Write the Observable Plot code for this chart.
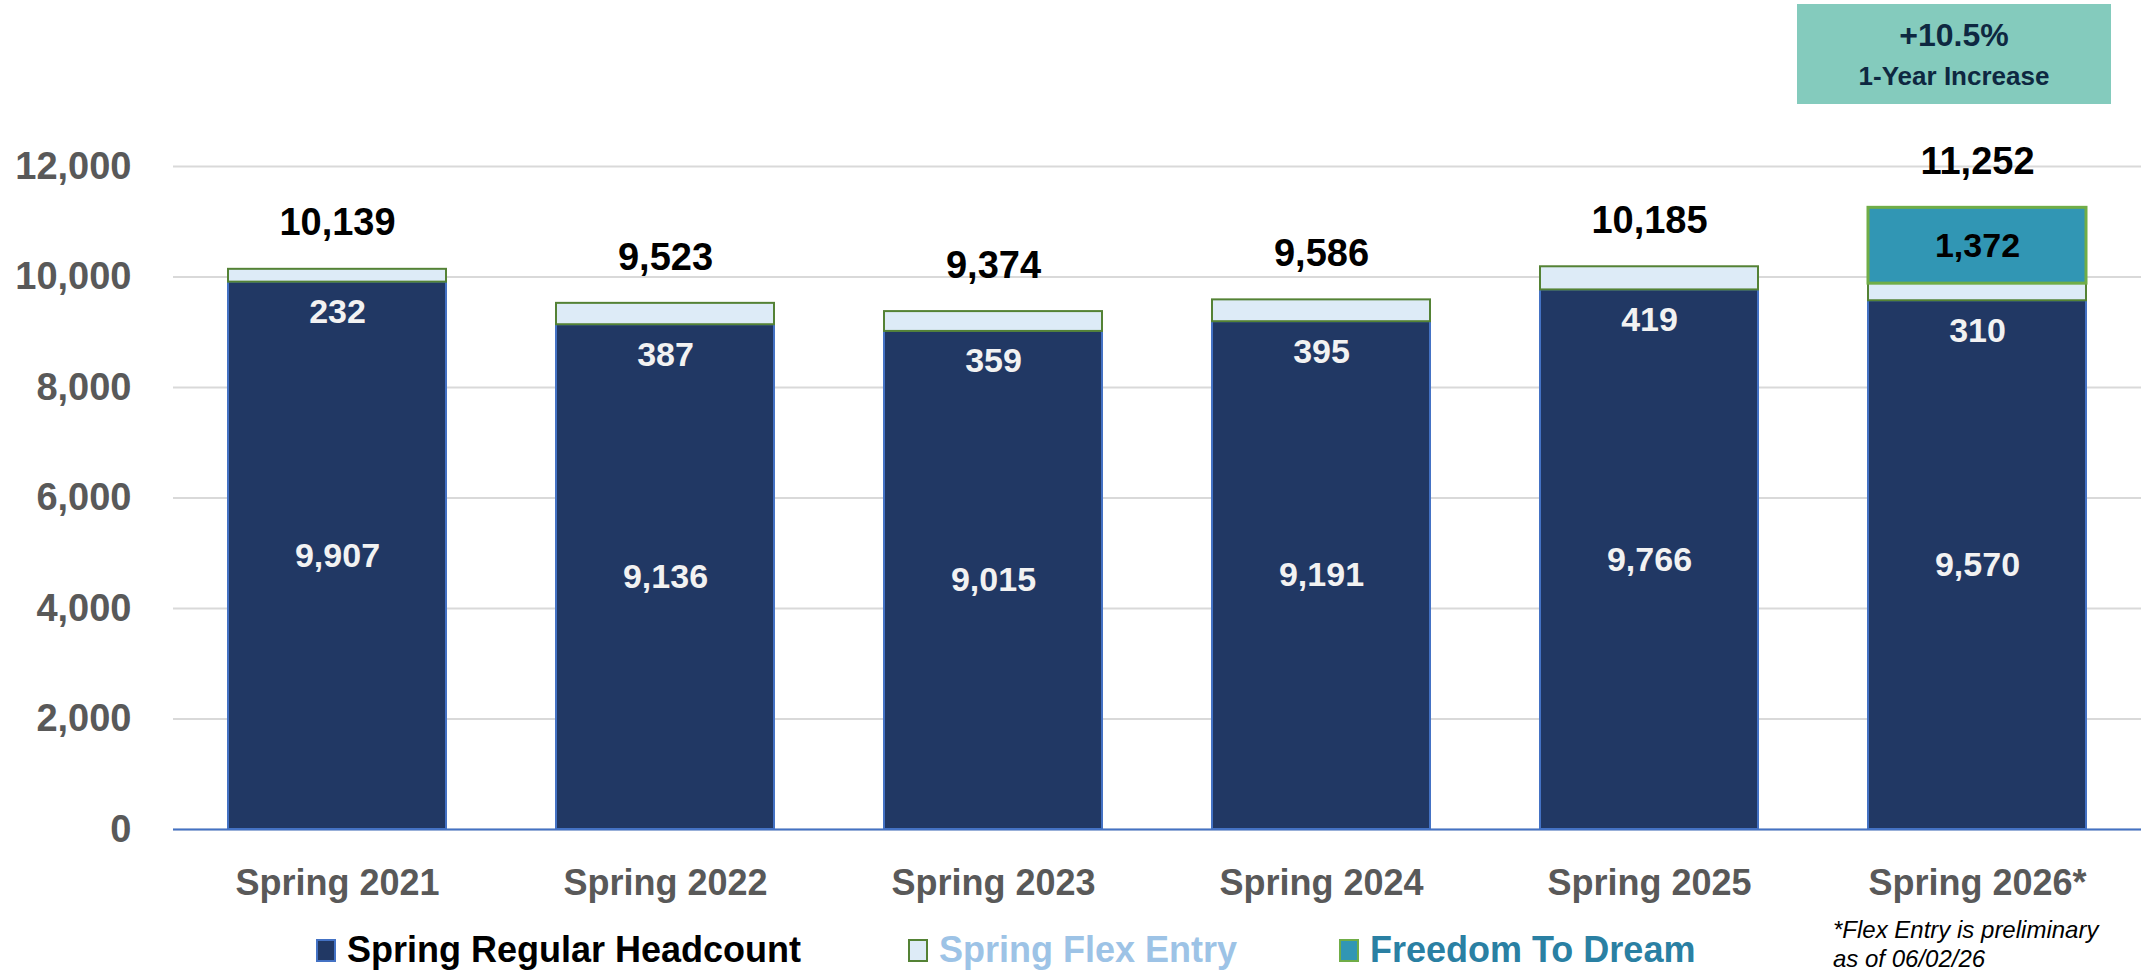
<!DOCTYPE html>
<html>
<head>
<meta charset="utf-8">
<script src="https://cdn.jsdelivr.net/npm/d3@7"></script>
<script src="https://cdn.jsdelivr.net/npm/@observablehq/plot@0.6"></script>
<style>
  html, body { margin: 0; padding: 0; background: #ffffff; }
  body { font-family: "Liberation Sans", Arial, sans-serif; }
  #wrap { position: relative; width: 2156px; height: 976px; overflow: hidden; }
  #chart svg { display: block; overflow: visible; }
  #callout { position: absolute; left: 1797px; top: 4px; width: 314px; height: 100px; background: #84CBBD; color: #0E2841; font-weight: bold; text-align: center; }
  #callout .l1 { position: absolute; left: 0; right: 0; top: 13px; font-size: 32px; line-height: 36px; }
  #callout .l2 { position: absolute; left: 0; right: 0; top: 57px; font-size: 26px; line-height: 30px; }
  #legend { position: absolute; left: 0; top: 912px; width: 2156px; height: 64px; }
  .lg-sw { position: absolute; top: 27px; width: 20px; height: 23px; box-sizing: border-box; border: 2px solid; }
  .lg-tx { position: absolute; top: 17px; font-size: 36px; line-height: 42px; font-weight: bold; white-space: nowrap; }
  #note { position: absolute; left: 1833px; top: 3px; font-size: 24px; font-style: italic; line-height: 29px; color: #000; white-space: nowrap; }
</style>
</head>
<body>
<div id="wrap">
  <div id="chart"></div>
  <div id="callout"><div class="l1"></div><div class="l2"></div></div>
  <div id="legend"></div>
</div>
<script>
// ---- data ----
const categories = ["Spring 2021", "Spring 2022", "Spring 2023", "Spring 2024", "Spring 2025", "Spring 2026*"];
const regularHeadcount = [9907, 9136, 9015, 9191, 9766, 9570];
const flexEntry = [232, 387, 359, 395, 419, 310];
const freedomToDream = [0, 0, 0, 0, 0, 1372];
const totals = [10139, 9523, 9374, 9586, 10185, 11252];
const yTicks = [0, 2000, 4000, 6000, 8000, 10000, 12000];
const seriesNames = ["Spring Regular Headcount", "Spring Flex Entry", "Freedom To Dream"];
const calloutLines = ["+10.5%", "1-Year Increase"];
const noteLines = ["*Flex Entry is preliminary", "as of 06/02/26"];

// ---- styles ----
const seriesFill = ["#213864", "#DDEBF7", "#3196B4"];
const seriesStroke = ["#4472C4", "#548235", "#70AD47"];
const legendText = ["#000000", "#9DC3E6", "#2A80A3"];

const rows = categories.map((c, i) => ({
  cat: c,
  regular: regularHeadcount[i],
  flex: flexEntry[i],
  ftd: freedomToDream[i],
  total: totals[i]
}));
const fmt = d3.format(",");

const chart = Plot.plot({
  width: 2156,
  height: 912,
  marginLeft: 173,
  marginRight: 15,
  marginTop: 166,
  marginBottom: 83,
  style: { fontFamily: "'Liberation Sans', Arial, sans-serif", background: "#ffffff", overflow: "visible" },
  x: { domain: categories, paddingInner: 0.335, paddingOuter: 0.1675, axis: null },
  y: { domain: [0, 12000], axis: null },
  marks: [
    Plot.gridY(yTicks, { stroke: "#D9D9D9", strokeOpacity: 1, strokeWidth: 2 }),
    Plot.barY(rows, { x: "cat", y1: 0, y2: "regular", fill: seriesFill[0], stroke: seriesStroke[0], strokeWidth: 2 }),
    Plot.barY(rows, { x: "cat", y1: "regular", y2: d => d.regular + d.flex, fill: seriesFill[1], stroke: seriesStroke[1], strokeWidth: 2 }),
    Plot.barY(rows.filter(d => d.ftd > 0), { x: "cat", y1: d => d.regular + d.flex, y2: d => d.regular + d.flex + d.ftd, fill: seriesFill[2], stroke: seriesStroke[2], strokeWidth: 3 }),
    Plot.ruleY([0], { stroke: "#4472C4", strokeWidth: 2 }),
    Plot.axisY({ ticks: yTicks, tickFormat: fmt, tickSize: 0, tickPadding: 42, fontSize: 38, fontWeight: "bold", color: "#595959", label: null }),
    Plot.axisX({ tickSize: 0, tickPadding: 40, fontSize: 36, fontWeight: "bold", color: "#595959", label: null }),
    Plot.text(rows, { x: "cat", y: d => d.regular / 2, text: d => fmt(d.regular), fill: "#F2F2F2", fontSize: 34, fontWeight: "bold" }),
    Plot.text(rows, { x: "cat", y: "regular", dy: 30, text: d => fmt(d.flex), fill: "#F2F2F2", fontSize: 34, fontWeight: "bold" }),
    Plot.text(rows.filter(d => d.ftd > 0), { x: "cat", y: d => d.regular + d.flex + d.ftd / 2, text: d => fmt(d.ftd), fill: "#000000", fontSize: 34, fontWeight: "bold" }),
    Plot.text(rows, { x: "cat", y: "total", dy: -46, text: d => fmt(d.total), fill: "#000000", fontSize: 38, fontWeight: "bold" })
  ]
});
document.getElementById("chart").appendChild(chart);

// ---- callout ----
document.querySelector("#callout .l1").textContent = calloutLines[0];
document.querySelector("#callout .l2").textContent = calloutLines[1];

// ---- legend ----
const legend = document.getElementById("legend");
const swatchLeft = [316, 908, 1339];
const textLeft = [347, 939, 1370];
seriesNames.forEach((name, i) => {
  const sw = document.createElement("div");
  sw.className = "lg-sw";
  sw.style.left = swatchLeft[i] + "px";
  sw.style.background = seriesFill[i];
  sw.style.borderColor = seriesStroke[i];
  legend.appendChild(sw);
  const tx = document.createElement("div");
  tx.className = "lg-tx";
  tx.style.left = textLeft[i] + "px";
  tx.style.color = legendText[i];
  tx.textContent = name;
  legend.appendChild(tx);
});
const note = document.createElement("div");
note.id = "note";
note.innerHTML = noteLines.map(s => s.replace(/&/g, "&amp;")).join("<br>");
legend.appendChild(note);
</script>
</body>
</html>
